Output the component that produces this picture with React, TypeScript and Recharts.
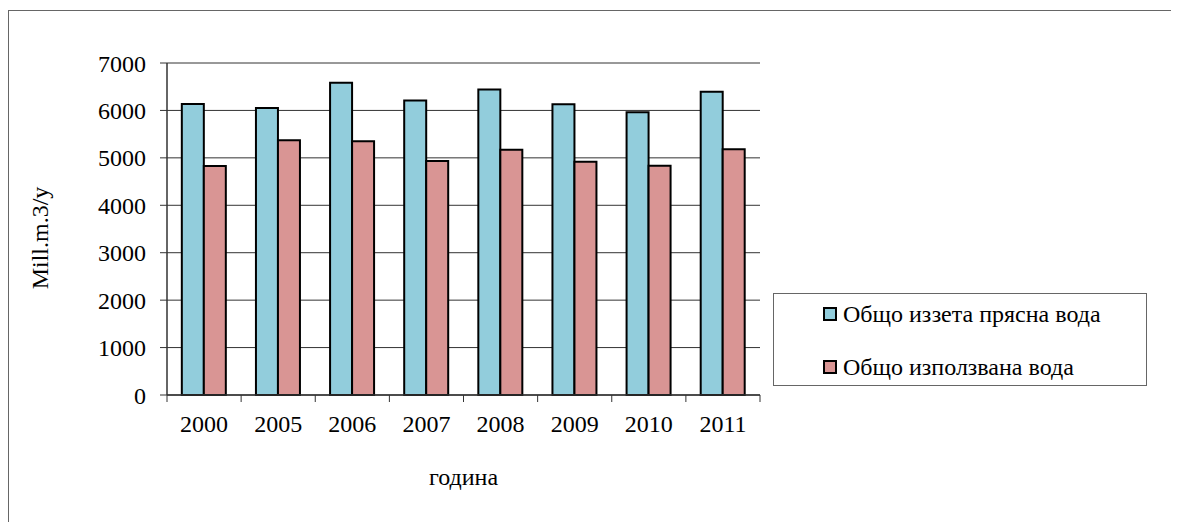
import {
  BarChart, Bar, XAxis, YAxis, CartesianGrid, Label,
} from 'recharts';

const years = ['2000', '2005', '2006', '2007', '2008', '2009', '2010', '2011'];
const withdrawn = [6135, 6050, 6585, 6210, 6440, 6130, 5960, 6395];
const used = [4830, 5370, 5350, 4935, 5170, 4920, 4835, 5180];
const yTicks = [0, 1000, 2000, 3000, 4000, 5000, 6000, 7000];

const SERIES = [
  { key: 'withdrawn', name: 'Общо иззета прясна вода', color: '#92CDDC' },
  { key: 'used', name: 'Общо използвана вода', color: '#D99594' },
];

const data = years.map((y, i) => ({ year: y, withdrawn: withdrawn[i], used: used[i] }));

const FONT = "'Liberation Serif', 'Times New Roman', serif";
const FS = 24;
const CHART_W = 1160;
const CHART_H = 514;
const MARGIN = { top: 52, right: 409, bottom: 30, left: 8 };
const PLOT_W = CHART_W - MARGIN.left - MARGIN.right - 150;
const HALF_BAND = PLOT_W / years.length / 2;

function XTick(props: any) {
  const { x, y, payload, index } = props;
  const last = index === years.length - 1;
  return (
    <g>
      <line x1={x - HALF_BAND} x2={x - HALF_BAND} y1={y} y2={y + 7} stroke="#333" />
      {last && <line x1={x + HALF_BAND} x2={x + HALF_BAND} y1={y} y2={y + 7} stroke="#333" />}
      <text x={x} y={y + 37} textAnchor="middle" fontSize={FS} fontFamily={FONT} fill="#000">
        {payload.value}
      </text>
    </g>
  );
}

function YTitle({ viewBox }: any) {
  const cx = viewBox.x + 23;
  const cy = viewBox.y + viewBox.height / 2 + 9;
  return (
    <text x={cx} y={cy} transform={`rotate(-90 ${cx} ${cy})`} textAnchor="middle" dominantBaseline="central"
      fontSize={FS} fontFamily={FONT} fill="#000">Mill.m.3/y</text>
  );
}

function XTitle({ viewBox }: any) {
  return (
    <text x={viewBox.x + viewBox.width / 2} y={viewBox.y + 90} textAnchor="middle"
      fontSize={FS} fontFamily={FONT} fill="#000">година</text>
  );
}

function LegendBox() {
  return (
    <div style={{
      position: 'absolute', left: 764, top: 282, width: 374, height: 93,
      border: '1px solid #666', boxSizing: 'border-box',
      fontFamily: FONT, fontSize: FS, color: '#000', paddingLeft: 49, paddingTop: 0,
    }}>
      {SERIES.map((s) => (
        <div key={s.key} style={{ display: 'flex', alignItems: 'center', height: 40, marginBottom: 13 }}>
          <span style={{
            display: 'inline-block', width: 10, height: 10, background: s.color,
            border: '2px solid #000', marginRight: 6,
          }} />
          <span>{s.name}</span>
        </div>
      ))}
    </div>
  );
}

export default function App() {
  return (
    <div style={{
      position: 'relative', top: 2, width: 1163, height: 514, boxSizing: 'border-box',
      borderTop: '1px solid #666', borderLeft: '1px solid #666',
      background: '#fff', overflow: 'hidden',
    }}>
      <BarChart
        width={CHART_W}
        height={CHART_H}
        data={data}
        margin={MARGIN}
        barCategoryGap="20%"
        barGap={0}
      >
        <CartesianGrid horizontal vertical={false} stroke="#333" strokeWidth={1} />
        <XAxis
          dataKey="year"
          height={100}
          tickLine={false}
          tickSize={0}
          tickMargin={0}
          tick={<XTick />}
          interval={0}
          axisLine={{ stroke: '#333', strokeWidth: 1.5 }}
        >
          <Label content={<XTitle />} />
        </XAxis>
        <YAxis
          width={150}
          domain={[0, 7000]}
          ticks={yTicks}
          interval={0}
          tickSize={7}
          tickMargin={14}
          tickLine={{ stroke: '#333' }}
          axisLine={{ stroke: '#333', strokeWidth: 1.5 }}
          tick={{ fontSize: FS, fontFamily: FONT, fill: '#000' }}
        >
          <Label content={<YTitle />} />
        </YAxis>
        <YAxis
          yAxisId="frame"
          orientation="right"
          width={0}
          tick={false}
          tickLine={false}
          axisLine={{ stroke: '#888', strokeWidth: 2 }}
        />
        {SERIES.map((s) => (
          <Bar
            key={s.key}
            dataKey={s.key}
            name={s.name}
            fill={s.color}
            stroke="#000"
            strokeWidth={2}
            isAnimationActive={false}
          />
        ))}
      </BarChart>
      <LegendBox />
    </div>
  );
}
